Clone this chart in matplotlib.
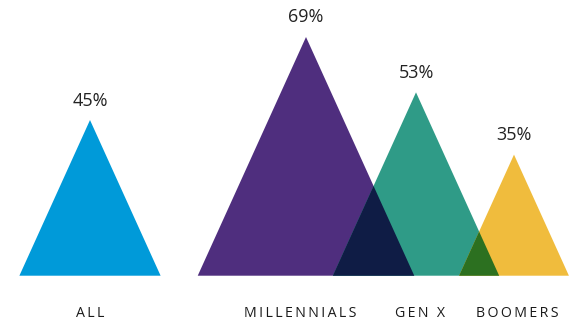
import matplotlib
matplotlib.use("Agg")
import matplotlib.pyplot as plt
from matplotlib.patches import Polygon

# share of each group (percent) and where each triangle sits along the baseline
groups = ["ALL", "MILLENNIALS", "GEN X", "BOOMERS"]
values = [45, 69, 53, 35]
centers = [90, 306, 416, 514]
label_x = [90, 300, 420, 517]
colors = ["#009ad9", "#4f2e7e", "#2f9b87", "#f0bc3d"]
overlap_colors = {(1, 2): "#0f1c45", (2, 3): "#2c7020"}

HALF = 1.569  # half base width (px) per percentage point


def tri(i):
    c, v = centers[i], values[i]
    return [(c - HALF * v, 0), (c, v), (c + HALF * v, 0)]


def overlap(a, b):
    # left triangle a, right triangle b: region under both edges
    _, (ca, va), (ra, _) = tri(a)
    (lb, _), (cb, vb), _ = tri(b)
    sa = -va / (ra - ca)          # slope of a's right edge
    sb = vb / (cb - lb)           # slope of b's left edge
    x = (sa * ra - sb * lb) / (sa - sb)
    y = sb * (x - lb)
    return [(lb, 0), (x, y), (ra, 0)]


fig = plt.figure(figsize=(5.77, 3.24), dpi=100)
ax = fig.add_axes([0, 0, 1, 1])
ax.set_xlim(0, 577)
ax.set_ylim(-13.96, 79.7)
ax.axis("off")

for i in range(len(groups)):
    ax.add_patch(Polygon(tri(i), closed=True, color=colors[i], lw=0))
for (a, b), col in overlap_colors.items():
    ax.add_patch(Polygon(overlap(a, b), closed=True, color=col, lw=0))

for i, v in enumerate(values):
    ax.text(centers[i], v + 4.2, f"{v}%", ha="center", va="baseline",
            fontsize=13, family="Open Sans", color="#222222")
    ax.text(label_x[i], -10.8, "\u2009".join(groups[i]), ha="center", va="center",
            fontsize=10.2, family="Open Sans", color="#1a1a1a")

fig.savefig("out.png", dpi=100)
